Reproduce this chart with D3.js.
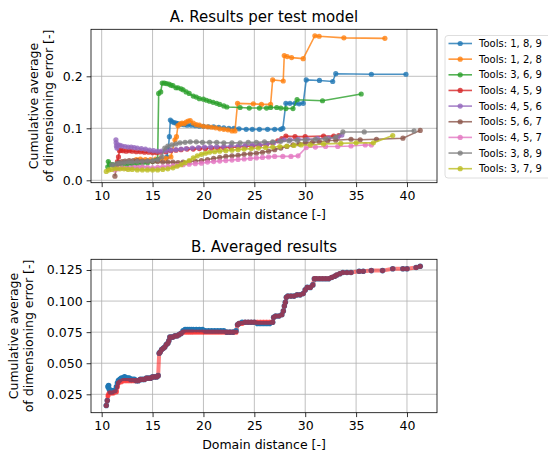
<!DOCTYPE html>
<html>
<head>
<meta charset="utf-8">
<script src="https://cdn.jsdelivr.net/npm/d3@7"></script>
<style>
  body { margin: 0; background: #fff; }
  svg { font-family: "DejaVu Sans", sans-serif; }
</style>
</head>
<body>
<div id="chart"></div>
<script>
// ---- data ----
const toolNames = ["Tools: 1, 8, 9", "Tools: 1, 2, 8", "Tools: 3, 6, 9", "Tools: 4, 5, 9", "Tools: 4, 5, 6",
    "Tools: 5, 6, 7", "Tools: 4, 5, 7", "Tools: 3, 8, 9", "Tools: 3, 7, 9"];
const toolColors = ["#1f77b4", "#ff7f0e", "#2ca02c", "#d62728", "#9467bd", "#8c564b", "#e377c2", "#7f7f7f", "#bcbd22"];

const x189 = [16.4, 16.55, 16.65, 16.75, 16.9, 17.1, 17.3, 17.5, 17.8, 18.1, 18.4, 18.8, 19.2, 19.6, 20.0, 20.5, 21.0, 21.5, 22.0, 22.5, 23.0, 23.5, 24.2, 24.8, 25.5, 26.3, 27.0, 27.6, 27.8, 28.1, 28.5, 29.0, 29.4, 29.8, 30.1, 31.4, 32.7, 33.0, 36.5, 39.9];
const y189 = [0.045, 0.06, 0.084, 0.116, 0.113, 0.111, 0.110, 0.109, 0.108, 0.107, 0.106, 0.106, 0.105, 0.104, 0.104, 0.103, 0.103, 0.102, 0.101, 0.100, 0.100, 0.099, 0.098, 0.098, 0.098, 0.098, 0.098, 0.098, 0.100, 0.148, 0.148, 0.148, 0.147, 0.148, 0.193, 0.192, 0.190, 0.205, 0.204, 0.204];

const x128 = [13.4, 13.8, 14.3, 14.8, 15.3, 15.8, 16.3, 16.8, 17.2, 17.35, 17.5, 17.7, 17.9, 18.1, 18.3, 18.5, 18.7, 19.0, 19.3, 19.6, 20.0, 20.4, 20.8, 21.2, 21.6, 22.0, 22.4, 22.8, 23.1, 23.35, 24.9, 25.7, 26.6, 26.8, 27.84, 27.94, 28.23, 28.66, 29.8, 30.95, 31.37, 33.8, 37.83];
const y128 = [0.040, 0.041, 0.040, 0.040, 0.041, 0.042, 0.042, 0.045, 0.078, 0.084, 0.105, 0.108, 0.110, 0.109, 0.112, 0.114, 0.115, 0.110, 0.107, 0.106, 0.104, 0.103, 0.102, 0.101, 0.099, 0.098, 0.097, 0.095, 0.095, 0.148, 0.147, 0.146, 0.146, 0.193, 0.191, 0.240, 0.238, 0.236, 0.234, 0.278, 0.277, 0.274, 0.273];

const x369 = [10.6, 10.65, 10.8, 11.1, 11.5, 12.0, 12.5, 13.0, 13.5, 14.0, 14.5, 15.0, 15.3, 15.5, 15.6, 15.8, 15.95, 16.15, 16.35, 16.6, 16.8, 17.0, 17.3, 17.5, 17.8, 18.0, 18.3, 18.6, 19.0, 19.3, 19.6, 20.0, 20.3, 20.6, 20.95, 21.3, 21.6, 22.0, 22.3, 23.6, 24.5, 25.5, 26.2, 26.6, 27.2, 27.6, 28.1, 28.8, 29.2, 31.7, 35.5];
const y369 = [0.026, 0.036, 0.031, 0.030, 0.031, 0.030, 0.030, 0.031, 0.032, 0.033, 0.034, 0.036, 0.038, 0.040, 0.167, 0.170, 0.187, 0.187, 0.186, 0.185, 0.183, 0.182, 0.178, 0.178, 0.176, 0.174, 0.170, 0.167, 0.162, 0.160, 0.157, 0.156, 0.154, 0.152, 0.150, 0.148, 0.146, 0.143, 0.141, 0.140, 0.139, 0.139, 0.139, 0.140, 0.140, 0.139, 0.138, 0.138, 0.155, 0.153, 0.166];

const x459 = [11.55, 11.65, 11.75, 11.9, 12.1, 12.4, 12.7, 13.0, 13.4, 13.8, 14.2, 14.6, 15.0, 15.4, 15.8, 16.3, 16.8, 17.3, 17.8, 18.4, 19.0, 19.6, 20.2, 20.8, 21.4, 22.0, 22.7, 23.4, 24.1, 24.8, 25.5, 26.2, 26.8, 27.3, 27.7, 28.1, 29.0, 30.0, 31.8, 32.8, 33.3];
const y459 = [0.036, 0.045, 0.057, 0.058, 0.057, 0.056, 0.057, 0.056, 0.055, 0.055, 0.054, 0.054, 0.053, 0.053, 0.054, 0.055, 0.057, 0.058, 0.059, 0.060, 0.060, 0.061, 0.061, 0.062, 0.062, 0.063, 0.063, 0.064, 0.065, 0.066, 0.067, 0.069, 0.072, 0.076, 0.080, 0.085, 0.084, 0.084, 0.085, 0.085, 0.086];

const x456 = [11.4, 11.42, 11.45, 11.5, 11.6, 11.8, 12.0, 12.3, 12.6, 12.9, 13.2, 13.5, 13.9, 14.3, 14.7, 15.1, 15.5, 15.9, 16.3, 16.8, 17.3, 17.8, 18.3, 18.9, 19.5, 20.1, 20.7, 21.3, 22.0, 22.7, 23.4, 24.1, 24.8, 25.5, 26.2, 26.9, 27.5, 27.9, 28.5, 29.3, 30.2, 31.2, 32.3, 33.2, 33.6];
const y456 = [0.078, 0.072, 0.066, 0.062, 0.068, 0.067, 0.066, 0.065, 0.064, 0.064, 0.063, 0.062, 0.061, 0.060, 0.058, 0.057, 0.056, 0.056, 0.057, 0.058, 0.059, 0.060, 0.061, 0.062, 0.063, 0.064, 0.064, 0.065, 0.065, 0.066, 0.066, 0.067, 0.068, 0.068, 0.070, 0.072, 0.076, 0.078, 0.078, 0.079, 0.079, 0.080, 0.081, 0.083, 0.087];

const x567 = [11.3, 11.5, 11.7, 12.0, 12.3, 12.7, 13.1, 13.5, 14.0, 14.5, 15.0, 15.5, 16.0, 16.5, 17.0, 17.5, 18.0, 18.6, 19.2, 19.8, 20.4, 21.0, 21.6, 22.2, 22.8, 23.4, 24.0, 24.6, 25.2, 25.8, 26.4, 27.0, 27.6, 28.2, 28.8, 29.4, 30.0, 30.7, 31.4, 32.2, 33.0, 34.5, 35.4, 37.0, 39.6, 41.3];
const y567 = [0.008, 0.030, 0.034, 0.036, 0.037, 0.038, 0.038, 0.038, 0.037, 0.037, 0.036, 0.036, 0.035, 0.035, 0.035, 0.034, 0.035, 0.036, 0.037, 0.038, 0.040, 0.042, 0.044, 0.046, 0.047, 0.048, 0.050, 0.051, 0.052, 0.054, 0.056, 0.059, 0.062, 0.065, 0.068, 0.070, 0.072, 0.073, 0.074, 0.076, 0.077, 0.079, 0.078, 0.079, 0.081, 0.096];

const x457 = [11.3, 11.6, 12.0, 12.4, 12.8, 13.2, 13.6, 14.0, 14.5, 15.0, 15.5, 16.0, 16.5, 17.0, 17.5, 18.0, 18.6, 19.2, 19.8, 20.4, 21.0, 21.6, 22.2, 22.8, 23.4, 24.0, 24.6, 25.2, 25.8, 26.4, 27.0, 27.8, 28.6, 29.3, 30.1, 31.0, 32.0, 33.2, 34.5, 35.9, 36.5];
const y457 = [0.020, 0.022, 0.024, 0.023, 0.024, 0.025, 0.025, 0.026, 0.025, 0.024, 0.025, 0.026, 0.027, 0.028, 0.029, 0.030, 0.031, 0.032, 0.033, 0.035, 0.036, 0.037, 0.038, 0.039, 0.040, 0.041, 0.042, 0.043, 0.044, 0.045, 0.046, 0.046, 0.046, 0.047, 0.063, 0.064, 0.065, 0.065, 0.066, 0.068, 0.068];

const x389 = [11.0, 11.2, 11.5, 11.8, 12.2, 12.6, 13.0, 13.5, 14.0, 14.5, 15.0, 15.5, 15.9, 16.2, 16.5, 16.9, 17.3, 17.7, 18.2, 18.7, 19.3, 19.9, 20.6, 21.3, 22.0, 22.8, 23.6, 24.4, 25.2, 26.0, 26.8, 27.6, 28.4, 29.2, 30.0, 31.0, 32.0, 33.0, 33.7, 35.8, 40.7];
const y389 = [0.030, 0.028, 0.032, 0.033, 0.034, 0.035, 0.035, 0.036, 0.036, 0.037, 0.038, 0.040, 0.045, 0.062, 0.066, 0.068, 0.070, 0.072, 0.073, 0.074, 0.074, 0.073, 0.073, 0.073, 0.072, 0.072, 0.072, 0.073, 0.073, 0.074, 0.074, 0.075, 0.076, 0.077, 0.078, 0.079, 0.080, 0.083, 0.093, 0.093, 0.095];

const x379 = [10.45, 10.7, 11.0, 11.4, 11.8, 12.2, 12.6, 13.0, 13.5, 14.0, 14.5, 15.0, 15.5, 16.0, 16.5, 17.0, 17.4, 17.8, 18.2, 18.6, 19.0, 19.4, 19.8, 20.2, 20.6, 21.1, 21.6, 22.2, 22.8, 23.4, 24.0, 24.7, 25.4, 26.1, 26.8, 27.5, 28.2, 28.9, 29.6, 30.5, 31.8, 33.5, 35.0, 36.7, 38.6];
const y379 = [0.017, 0.020, 0.021, 0.022, 0.022, 0.022, 0.021, 0.021, 0.020, 0.020, 0.020, 0.020, 0.020, 0.021, 0.022, 0.024, 0.027, 0.030, 0.034, 0.038, 0.043, 0.047, 0.050, 0.052, 0.054, 0.055, 0.056, 0.057, 0.058, 0.059, 0.060, 0.061, 0.062, 0.063, 0.064, 0.065, 0.066, 0.067, 0.068, 0.068, 0.070, 0.071, 0.072, 0.072, 0.086];

const toolX = [x189, x128, x369, x459, x456, x567, x457, x389, x379];
const toolY = [y189, y128, y369, y459, y456, y567, y457, y389, y379];

// averaged results: raw average and the fitted (monotone) curve
const avgX = [10.45, 10.55, 10.62, 10.68, 10.75, 10.85, 11.0, 11.15, 11.3, 11.45, 11.55, 11.65, 11.8, 11.95, 12.1, 12.25, 12.4, 12.55, 12.7, 12.85,
    13.0, 13.2, 13.4, 13.6, 13.8, 14.0, 14.2, 14.4, 14.6, 14.8, 15.0, 15.2, 15.4, 15.55, 15.65, 15.75, 15.9, 16.05, 16.2, 16.35,
    16.5, 16.6, 16.7, 16.85, 17.0, 17.2, 17.4, 17.6, 17.8, 18.0, 18.2, 18.4, 18.6, 18.8, 19.0, 19.3, 19.6, 19.9, 20.2, 20.5,
    20.8, 21.1, 21.4, 21.7, 22.0, 22.3, 22.6, 22.9, 23.2, 23.35, 23.5, 23.8, 24.1, 24.4, 24.7, 25.0, 25.3, 25.6, 25.9, 26.2,
    26.5, 26.8, 26.9, 27.1, 27.4, 27.7, 27.85, 27.95, 28.05, 28.15, 28.3, 28.6, 28.9, 29.2, 29.5, 29.8, 30.0, 30.2, 30.5, 30.75,
    30.9, 31.1, 31.4, 31.7, 32.0, 32.3, 32.6, 32.9, 33.1, 33.4, 33.7, 34.1, 34.5, 35.3, 35.7, 36.5, 37.6, 38.6, 39.6, 40.0, 40.9, 41.3];
const avgRaw = [0.016, 0.020, 0.031, 0.032, 0.029, 0.027, 0.027, 0.028, 0.028, 0.031, 0.034, 0.036, 0.037, 0.038, 0.038, 0.039, 0.038, 0.038, 0.038, 0.037,
    0.037, 0.037, 0.036, 0.036, 0.037, 0.037, 0.037, 0.038, 0.038, 0.038, 0.039, 0.039, 0.039, 0.040, 0.058, 0.059, 0.061, 0.062, 0.063, 0.065,
    0.066, 0.068, 0.071, 0.071, 0.071, 0.072, 0.072, 0.073, 0.074, 0.076, 0.077, 0.077, 0.077, 0.077, 0.077, 0.077, 0.077, 0.077, 0.076, 0.076,
    0.076, 0.076, 0.076, 0.076, 0.076, 0.075, 0.075, 0.075, 0.076, 0.081, 0.082, 0.083, 0.083, 0.083, 0.083, 0.083, 0.082, 0.082, 0.082, 0.082,
    0.082, 0.083, 0.087, 0.088, 0.088, 0.089, 0.092, 0.096, 0.099, 0.103, 0.104, 0.104, 0.104, 0.105, 0.105, 0.106, 0.109, 0.111, 0.111, 0.113,
    0.118, 0.118, 0.118, 0.118, 0.118, 0.118, 0.119, 0.120, 0.121, 0.122, 0.123, 0.123, 0.123, 0.124, 0.124, 0.1245, 0.1245, 0.126, 0.126, 0.126, 0.127, 0.128];
const avgFit = [0.016, 0.020, 0.024, 0.025, 0.026, 0.026, 0.026, 0.026, 0.027, 0.027, 0.031, 0.034, 0.035, 0.035, 0.036, 0.036, 0.036, 0.036, 0.036, 0.036,
    0.036, 0.036, 0.036, 0.036, 0.037, 0.037, 0.037, 0.038, 0.038, 0.038, 0.039, 0.039, 0.039, 0.040, 0.058, 0.059, 0.061, 0.062, 0.063, 0.065,
    0.066, 0.068, 0.071, 0.071, 0.071, 0.072, 0.072, 0.073, 0.074, 0.075, 0.075, 0.075, 0.075, 0.075, 0.075, 0.075, 0.075, 0.075, 0.075, 0.075,
    0.075, 0.075, 0.075, 0.075, 0.075, 0.075, 0.075, 0.075, 0.075, 0.081, 0.082, 0.082, 0.083, 0.083, 0.083, 0.083, 0.083, 0.083, 0.083, 0.083,
    0.083, 0.083, 0.087, 0.088, 0.088, 0.089, 0.092, 0.096, 0.099, 0.103, 0.104, 0.104, 0.104, 0.105, 0.105, 0.106, 0.109, 0.111, 0.111, 0.113,
    0.118, 0.118, 0.118, 0.118, 0.118, 0.118, 0.119, 0.120, 0.121, 0.122, 0.123, 0.123, 0.123, 0.124, 0.124, 0.1245, 0.1245, 0.126, 0.126, 0.126, 0.127, 0.128];

const topTicksY = [0.0, 0.1, 0.2];
const botTicksY = [0.025, 0.050, 0.075, 0.100, 0.125];
const ticksX = [10, 15, 20, 25, 30, 35, 40];

// ---- layout ----
const W = 548, H = 455;
const svg = d3.select("#chart").append("svg")
    .attr("width", W)
    .attr("height", H);
svg.append("rect").attr("width", W).attr("height", H).attr("fill", "#fff");

const left = 91, right = 437;
const x = d3.scaleLinear().domain([8.95, 42.95]).range([left, right]);
const yTop = d3.scaleLinear().domain([-0.0046, 0.2904]).range([182.7, 29.3]);
const yBot = d3.scaleLinear().domain([0.0102, 0.1336]).range([412.7, 259.3]);

// labelX = baselines of the two rotated y-label lines
function drawPanel(y, yTicks, yFmt, title, id, labelX) {
    let g = svg.append("g");
    let top = y.range()[1], bottom = y.range()[0];

    svg.append("clipPath").attr("id", id)
        .append("rect")
        .attr("x", left).attr("y", top)
        .attr("width", right - left).attr("height", bottom - top);

    // grid
    g.append("g").selectAll("line").data(ticksX).join("line")
        .attr("x1", d => x(d)).attr("x2", d => x(d))
        .attr("y1", top).attr("y2", bottom)
        .attr("stroke", "#b0b0b0").attr("stroke-width", 0.8);
    g.append("g").selectAll("line").data(yTicks).join("line")
        .attr("x1", left).attr("x2", right)
        .attr("y1", d => y(d)).attr("y2", d => y(d))
        .attr("stroke", "#b0b0b0").attr("stroke-width", 0.8);

    // axes
    let xAxis = g.append("g")
        .attr("transform", `translate(0,${bottom})`)
        .call(d3.axisBottom(x).tickValues(ticksX).tickSize(4.4).tickPadding(4).tickFormat(d3.format("d")));
    let yAxis = g.append("g")
        .attr("transform", `translate(${left},0)`)
        .call(d3.axisLeft(y).tickValues(yTicks).tickSize(4.4).tickPadding(4).tickFormat(d3.format(yFmt)));
    [xAxis, yAxis].forEach(a => {
        a.select(".domain").remove();
        a.selectAll("text").attr("font-size", "12.5px").attr("fill", "#000").attr("font-family", "DejaVu Sans");
        a.selectAll("line").attr("stroke", "#000").attr("stroke-width", 0.8);
    });

    g.append("rect")
        .attr("x", left).attr("y", top)
        .attr("width", right - left).attr("height", bottom - top)
        .attr("fill", "none").attr("stroke", "#000").attr("stroke-width", 0.8);

    // titles
    g.append("text")
        .attr("x", (left + right) / 2).attr("y", top - 7.5)
        .attr("text-anchor", "middle").attr("font-size", "15px")
        .text(title);
    g.append("text")
        .attr("x", (left + right) / 2).attr("y", bottom + 36)
        .attr("text-anchor", "middle").attr("font-size", "12.5px")
        .text("Domain distance [-]");

    let ylab = g.append("text")
        .attr("transform", `translate(0,${(top + bottom) / 2}) rotate(-90)`)
        .attr("text-anchor", "middle").attr("font-size", "12.5px");
    ylab.append("tspan").attr("x", 0).attr("y", labelX[0]).text("Cumulative average");
    ylab.append("tspan").attr("x", 0).attr("y", labelX[1]).text("of dimensioning error [-]");

    return svg.append("g").attr("clip-path", `url(#${id})`);
}

// ---- A. results per test model ----
const plotA = drawPanel(yTop, topTicksY, ".1f", "A. Results per test model", "clipA", [37.5, 52.5]);

toolNames.forEach(function (name, i) {
    let pts = toolX[i].map((v, j) => ({x: v, y: toolY[i][j]}));
    let line = d3.line().x(d => x(d.x)).y(d => yTop(d.y));
    let s = plotA.append("g");
    s.append("path")
        .datum(pts)
        .attr("d", line)
        .attr("fill", "none")
        .attr("stroke", toolColors[i])
        .attr("stroke-width", 1.6)
        .attr("opacity", 0.8);
    s.selectAll("circle").data(pts).join("circle")
        .attr("cx", d => x(d.x))
        .attr("cy", d => yTop(d.y))
        .attr("r", 2.6)
        .attr("fill", toolColors[i])
        .attr("opacity", 0.8);
});

// legend
const legend = svg.append("g").attr("transform", "translate(445,35.5)");
legend.append("rect")
    .attr("width", 112).attr("height", 142.5)
    .attr("rx", 3)
    .attr("fill", "#fff").attr("fill-opacity", 0.8)
    .attr("stroke", "#d6d6d6").attr("stroke-width", 0.8);
toolNames.forEach(function (name, i) {
    let row = legend.append("g").attr("transform", `translate(0,${8 + i * 15.65})`);
    row.append("line")
        .attr("x1", 3.5).attr("x2", 27)
        .attr("stroke", toolColors[i]).attr("stroke-width", 1.6).attr("opacity", 0.8);
    row.append("circle")
        .attr("cx", 15.2).attr("r", 2.6)
        .attr("fill", toolColors[i]).attr("opacity", 0.8);
    row.append("text")
        .attr("x", 34).attr("y", 3.6)
        .attr("font-size", "10px")
        .text(name);
});

// ---- B. averaged results ----
const plotB = drawPanel(yBot, botTicksY, ".3f", "B. Averaged results", "clipB", [18, 33]);

const rawPts = avgX.map((v, j) => ({x: v, y: avgRaw[j]}));
const fitPts = avgX.map((v, j) => ({x: v, y: avgFit[j]}));
const lineB = d3.line().x(d => x(d.x)).y(d => yBot(d.y));

// fitted line underneath, raw markers, then fitted markers on top (as one translucent layer)
plotB.append("path")
    .datum(fitPts)
    .attr("d", lineB)
    .attr("fill", "none")
    .attr("stroke", "#ff0000")
    .attr("stroke-width", 4)
    .attr("opacity", 0.5);
plotB.append("g").selectAll("circle").data(rawPts).join("circle")
    .attr("cx", d => x(d.x)).attr("cy", d => yBot(d.y))
    .attr("r", 2.8)
    .attr("fill", "#1f77b4");
plotB.append("g")
    .attr("opacity", 0.5)
    .selectAll("circle").data(fitPts).join("circle")
    .attr("cx", d => x(d.x)).attr("cy", d => yBot(d.y))
    .attr("r", 2.6)
    .attr("fill", "#ff0000");
</script>
</body>
</html>
